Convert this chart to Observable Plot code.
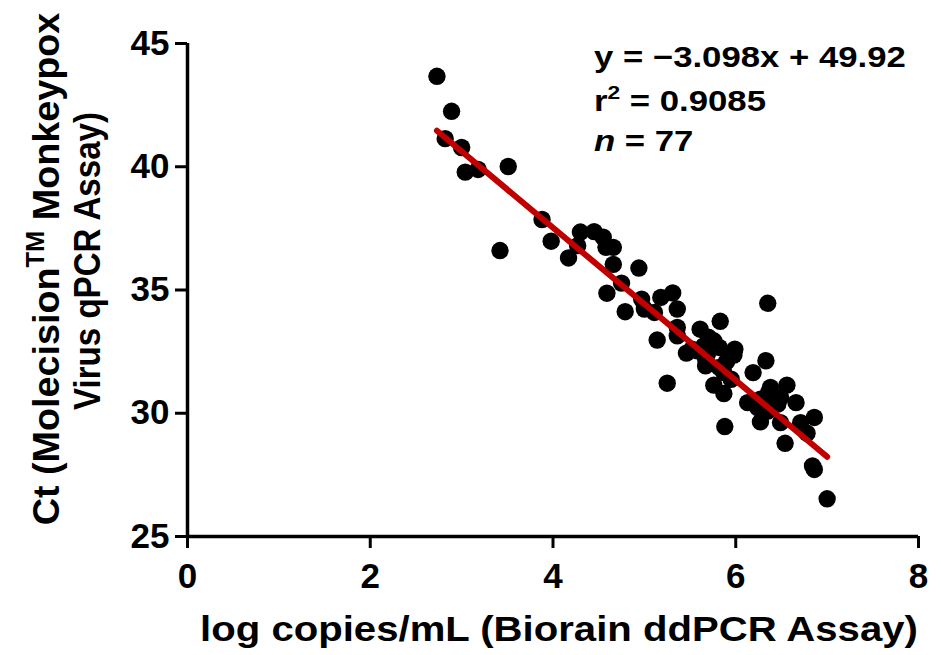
<!DOCTYPE html>
<html><head><meta charset="utf-8">
<script src="https://cdn.jsdelivr.net/npm/d3@7"></script>
<script src="https://cdn.jsdelivr.net/npm/@observablehq/plot@0.6"></script>
<style>body{margin:0;background:#fff;} </style>
</head><body><div id="chart"></div>
<script>
const logCopies = [2.73,2.89,2.82,3.00,3.04,3.18,3.51,3.88,3.42,3.98,4.17,4.30,4.27,4.45,4.55,4.58,4.66,4.66,4.94,4.75,4.59,4.79,4.97,5.00,5.11,5.18,5.31,5.36,5.36,5.36,5.14,5.25,5.61,5.83,6.35,5.46,5.58,5.67,5.76,5.82,5.99,5.98,5.69,5.73,5.65,5.67,5.82,5.87,5.95,5.76,5.87,5.88,6.19,6.33,6.13,6.24,6.27,6.38,6.49,6.46,6.35,6.27,6.49,6.56,6.66,6.71,6.86,6.78,6.54,6.84,6.86,7.00,5.70,6.36,5.52,6.42,5.90];
const ctValues  = [43.67,42.25,41.14,40.78,39.78,39.89,40.01,37.86,36.60,36.98,36.30,37.35,36.80,37.37,37.14,36.73,36.73,36.04,35.89,35.28,34.87,34.12,34.63,34.23,34.09,34.70,34.88,34.23,33.48,33.14,32.97,31.22,33.41,33.73,34.46,32.44,32.53,32.20,32.94,32.67,32.60,32.36,32.40,32.80,32.73,31.92,31.86,31.65,31.38,31.14,30.80,29.46,31.65,32.13,30.43,30.23,30.57,31.05,30.64,30.37,30.09,29.65,29.62,31.14,30.43,29.62,29.83,29.19,28.78,27.86,27.72,26.53,33.09,30.85,32.60,30.45,32.10];
const slope = -3.098, intercept = 49.92;
const xTicks = [0,2,4,6,8];
const yTicks = [25,30,35,40,45];
const statLines = ["y = \u22123.098x + 49.92", "r\u00b2 = 0.9085", "n = 77"];

const pts = logCopies.map((x,i)=>({x, y: ctValues[i]}));
const xmin = d3.min(logCopies), xmax = d3.max(logCopies);
const fit = [xmin, xmax].map(x=>({x, y: slope*x+intercept}));

const W = 941, H = 655;
const ff = "'Liberation Sans', Arial, sans-serif";
const plot = Plot.plot({
  width: W, height: H,
  marginLeft: 187, marginRight: 23, marginTop: 43, marginBottom: 119,
  style: {fontFamily: ff, fontWeight: "bold", color: "#000", background: "#fff"},
  x: {domain: [0,8], label: null},
  y: {domain: [25,45], label: null},
  marks: [
    Plot.axisX({ticks: xTicks, tickSize: 12, tickPadding: 15, strokeWidth: 3, label: null}),
    Plot.axisY({ticks: yTicks, tickSize: 12, tickPadding: 6, strokeWidth: 3, label: null}),
    Plot.ruleX([0], {stroke: "#000", strokeWidth: 3.5}),
    Plot.ruleY([25], {stroke: "#000", strokeWidth: 3.5}),
    Plot.dot(pts, {x: "x", y: "y", r: 8.7, fill: "#000", stroke: "none"}),
    Plot.line(fit, {x: "x", y: "y", stroke: "#c00000", strokeWidth: 6})
  ]
});
document.getElementById("chart").appendChild(plot);
const svg = d3.select(plot);
svg.selectAll('g[aria-label="x-axis tick label"], g[aria-label="y-axis tick label"]')
  .attr("font-size", 35).attr("font-weight", "bold");

function stretchX(sel, x0, target) {
  const w = sel.node().getBBox().width;
  const s = target / w;
  sel.attr("transform", `translate(${x0},0) scale(${s},1) translate(${-x0},0)`);
  return s;
}
// stats text
const st = svg.append("g").attr("font-family", ff).attr("font-weight","bold").attr("font-size", 29).attr("fill","#000").attr("text-anchor","start");
const t1 = st.append("text").attr("x", 594).attr("y", 67).text(statLines[0]);
const t2 = st.append("text").attr("x", 594).attr("y", 111);
t2.append("tspan").text("r");
t2.append("tspan").attr("font-size", 19).attr("dy", -12).text("2");
t2.append("tspan").attr("dy", 12).text(" = 0.9085");
const t3 = st.append("text").attr("x", 594).attr("y", 151);
t3.append("tspan").attr("font-style","italic").text("n");
t3.append("tspan").text(" = 77");
const s = stretchX(t1, 594, 312);
[t2, t3].forEach(t => t.attr("transform", `translate(594,0) scale(${s},1) translate(-594,0)`));
// x label
const xl = svg.append("text").attr("x", 559).attr("y", 641).attr("text-anchor","middle")
  .attr("font-family", ff).attr("font-weight","bold").attr("font-size", 35).text("log copies/mL (Biorain ddPCR Assay)");
stretchX(xl, 559, 718);
// y label
const yl = svg.append("g").attr("transform","translate(0,0) rotate(-90)")
  .attr("font-family", ff).attr("font-weight","bold").attr("font-size", 37).attr("text-anchor","middle");
const l1 = yl.append("text").attr("x", -269).attr("y", 59);
l1.append("tspan").text("Ct (Molecision");
l1.append("tspan").attr("font-size", 25).attr("dy", -15).text("TM");
l1.append("tspan").attr("dy", 15).text(" Monkeypox");
const l2 = yl.append("text").attr("x", -261).attr("y", 100).text("Virus qPCR Assay)");
stretchX(l1, -269, 513);
stretchX(l2, -261, 298);
</script></body></html>
